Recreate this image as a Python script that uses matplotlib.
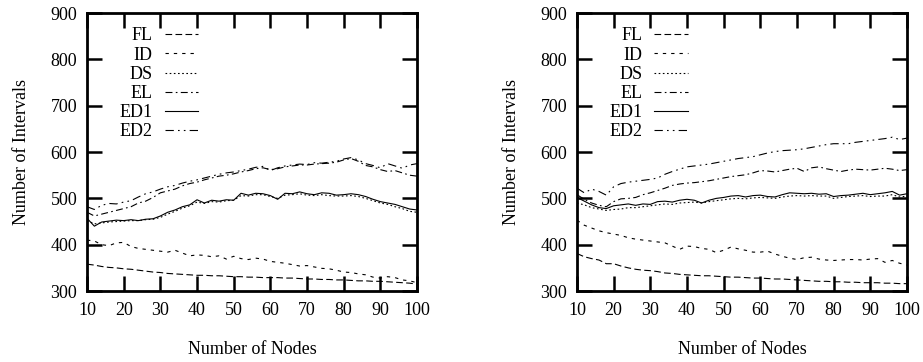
import numpy as np
import matplotlib
matplotlib.use("Agg")
import matplotlib.pyplot as plt

plt.rcParams['font.family'] = 'serif'
plt.rcParams['font.serif'] = ['Liberation Serif', 'DejaVu Serif']
plt.rcParams['lines.scale_dashes'] = False

# x positions (number of nodes)
nodes = list(range(10, 101, 2))

# left panel
left_fl = [358, 356, 353, 351, 350, 348, 347, 345, 343, 341, 340, 338, 337, 336, 335, 334,
           334, 333, 333, 332, 331, 331, 330, 330, 329, 329, 329, 328, 328, 327, 326, 326,
           325, 325, 324, 324, 323, 322, 322, 321, 321, 320, 319, 318, 317, 315]
left_id = [410, 408, 400, 398, 404, 405, 396, 392, 390, 388, 386, 384, 388, 382, 376, 378,
           377, 374, 376, 369, 375, 370, 368, 371, 369, 364, 362, 360, 357, 354, 355, 352,
           349, 348, 345, 341, 340, 337, 335, 330, 328, 331, 329, 324, 322, 318]
left_ds = [452, 445, 447, 449, 450, 451, 452, 452, 454, 455, 459, 466, 472, 479, 484, 492,
           489, 493, 492, 495, 496, 506, 505, 508, 508, 504, 500, 507, 508, 510, 507, 506,
           508, 506, 505, 505, 506, 504, 500, 495, 490, 487, 482, 478, 472, 470]
left_el = [470, 462, 466, 470, 474, 478, 482, 490, 494, 502, 512, 516, 520, 527, 532, 535,
           540, 544, 548, 550, 553, 557, 560, 564, 566, 562, 564, 568, 570, 572, 572, 574,
           575, 576, 578, 583, 586, 580, 571, 568, 562, 558, 560, 555, 550, 548]
left_ed1 = [457, 440, 449, 451, 453, 452, 454, 452, 455, 456, 462, 470, 475, 482, 486, 497,
            490, 496, 494, 497, 496, 511, 507, 511, 510, 506, 498, 511, 510, 514, 510, 508,
            512, 511, 507, 508, 510, 508, 504, 498, 493, 490, 487, 482, 477, 475]
left_ed2 = [482, 476, 485, 489, 488, 492, 495, 503, 510, 514, 520, 525, 528, 533, 537, 540,
            544, 548, 552, 555, 557, 560, 563, 567, 569, 560, 566, 570, 572, 574, 573, 577,
            576, 578, 580, 585, 588, 583, 575, 571, 566, 575, 570, 565, 572, 575]

# right panel
right_fl = [381, 374, 370, 367, 359, 359, 354, 350, 347, 345, 344, 342, 339, 338, 336, 335,
            334, 333, 333, 332, 331, 330, 330, 329, 328, 328, 327, 326, 326, 325, 324, 323,
            322, 321, 321, 320, 320, 319, 319, 318, 318, 318, 317, 317, 316, 316]
right_id = [453, 442, 436, 430, 426, 423, 420, 415, 412, 410, 408, 406, 404, 397, 390, 397,
            396, 392, 390, 383, 388, 395, 391, 388, 384, 384, 386, 380, 375, 371, 368, 372,
            373, 369, 367, 366, 367, 368, 368, 367, 369, 370, 362, 366, 360, 356]
right_ds = [490, 486, 480, 477, 474, 476, 477, 480, 480, 482, 484, 486, 488, 487, 490, 491,
            492, 490, 493, 495, 497, 499, 500, 499, 501, 502, 501, 500, 503, 505, 506, 505,
            506, 505, 505, 500, 502, 504, 505, 506, 504, 505, 505, 508, 503, 505]
right_el = [508, 498, 490, 485, 482, 493, 499, 500, 502, 508, 512, 517, 522, 528, 531, 533,
            534, 536, 538, 541, 544, 547, 549, 551, 555, 560, 559, 557, 560, 563, 565, 558,
            566, 568, 564, 561, 558, 561, 563, 562, 561, 563, 565, 563, 560, 562]
right_ed1 = [502, 494, 486, 480, 478, 484, 486, 488, 485, 488, 487, 493, 494, 492, 496, 498,
             496, 490, 496, 500, 502, 505, 506, 503, 506, 507, 504, 503, 508, 512, 511, 510,
             511, 509, 510, 504, 506, 507, 509, 511, 508, 510, 512, 515, 507, 510]
right_ed2 = [522, 512, 520, 515, 507, 525, 532, 535, 537, 539, 541, 544, 552, 558, 563, 568,
             570, 572, 574, 577, 580, 583, 586, 588, 590, 594, 598, 601, 603, 604, 605, 607,
             610, 613, 616, 618, 618, 618, 621, 623, 625, 627, 629, 632, 627, 630]

labels = ['FL', 'ID', 'DS', 'EL', 'ED1', 'ED2']
dashes = [(0, (4.8, 2.4)),
          (0, (2.4, 3.6)),
          (0, (1.2, 1.8)),
          (0, (5.0, 2.4, 1.2, 2.4)),
          '-',
          (0, (6.0, 3.0, 1.2, 3.0, 1.2, 3.0))]

fig = plt.figure(figsize=(9.23, 3.62), dpi=100)
ax1 = fig.add_axes([0.0943, 0.196, 0.3575, 0.768])
ax2 = fig.add_axes([0.6251, 0.196, 0.3575, 0.768])

panels = [(ax1, [left_fl, left_id, left_ds, left_el, left_ed1, left_ed2]),
          (ax2, [right_fl, right_id, right_ds, right_el, right_ed1, right_ed2])]

for ax, series in panels:
    for vals, lab, ls in zip(series, labels, dashes):
        ax.plot(nodes, vals, color='black', linestyle=ls, linewidth=0.8, label=lab)
    ax.set_xlim(10, 100)
    ax.set_ylim(300, 900)
    ax.set_xticks(range(10, 101, 10))
    ax.set_yticks(range(300, 901, 100))
    ax.tick_params(direction='in', length=11, width=1.8, top=True, right=True,
                   labelsize=13)
    ax.tick_params(axis='x', pad=8)
    ax.tick_params(axis='y', pad=7)
    for sp in ax.spines.values():
        sp.set_linewidth(2.0)
    ax.set_xlabel('Number of Nodes', fontsize=13, labelpad=16)
    ax.set_ylabel('Number of Intervals', fontsize=13, labelpad=15)
    ax.legend(loc='upper right', bbox_to_anchor=(0.336, 0.948), frameon=False,
              markerfirst=False, fontsize=13, handlelength=1.85, handletextpad=0.67,
              labelspacing=0.12, borderpad=0, borderaxespad=0)

fig.savefig('out.png', dpi=100, facecolor='white')
